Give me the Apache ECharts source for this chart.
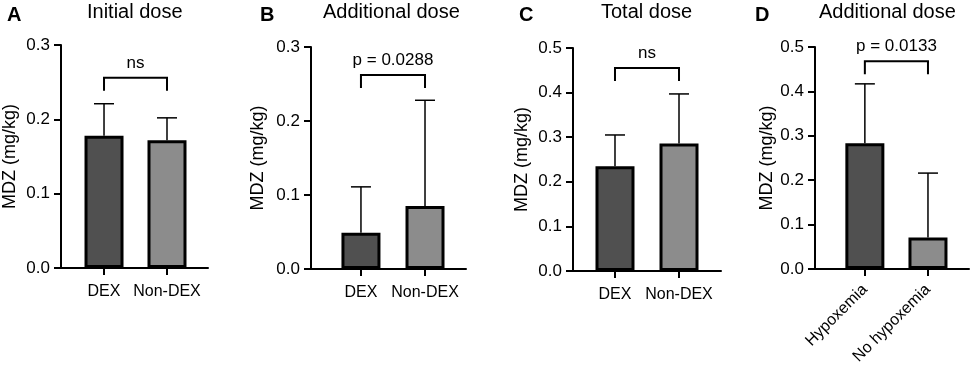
<!DOCTYPE html>
<html lang="en">
<head>
    <meta charset="UTF-8">
    <title>MDZ dose</title>
    <style>
        html, body { margin: 0; padding: 0; background: #fff; }
        #chart { width: 972px; height: 369px; }
    </style>
    <script src="https://cdn.jsdelivr.net/npm/echarts@6/dist/echarts.min.js"></script>
</head>
<body>
    <div id="chart"></div>
    <script>
        // values (mean, top of error bar)
        var catsDex = ['DEX', 'Non-DEX'];
        var catsHyp = ['Hypoxemia', 'No hypoxemia'];

        var meanA = [0.178, 0.172];
        var errA = [0.221, 0.202];
        var meanB = [0.049, 0.085];
        var errB = [0.111, 0.228];
        var meanC = [0.235, 0.286];
        var errC = [0.305, 0.397];
        var meanD = [0.283, 0.071];
        var errD = [0.417, 0.216];

        // significance brackets: [from, to, level]
        var bracketA = [0, 1, 0.256];
        var bracketB = [0, 1, 0.262];
        var bracketC = [0, 1, 0.455];
        var bracketD = [0, 1, 0.468];
        var sigText = ['ns', 'p = 0.0288', 'ns', 'p = 0.0133'];

        var yMax = [0.3, 0.3, 0.5, 0.5];
        var titles = ['Initial dose', 'Additional dose', 'Total dose', 'Additional dose'];
        var letters = ['A', 'B', 'C', 'D'];

        var barColors = ['#505050', '#8c8c8c'];
        var font = 'Liberation Sans, Arial, sans-serif';

        var panels = [
            { cats: catsDex, mean: meanA, err: errA, bracket: bracketA,
              grid: { left: 61, top: 45, width: 147, height: 223 }, xMin: -0.683, xMax: 1.651, nameGap: 42,
              titleLeft: 87, letterLeft: 7, rotate: 0 },
            { cats: catsDex, mean: meanB, err: errB, bracket: bracketB,
              grid: { left: 311, top: 47, width: 155, height: 222 }, xMin: -0.78, xMax: 1.64, nameGap: 44,
              titleLeft: 323, letterLeft: 260, rotate: 0 },
            { cats: catsDex, mean: meanC, err: errC, bracket: bracketC,
              grid: { left: 573, top: 48, width: 148, height: 223 }, xMin: -0.656, xMax: 1.656, nameGap: 42,
              titleLeft: 601, letterLeft: 519, rotate: 0 },
            { cats: catsHyp, mean: meanD, err: errD, bracket: bracketD,
              grid: { left: 815, top: 47, width: 154, height: 222 }, xMin: -0.79, xMax: 1.65, nameGap: 35,
              titleLeft: 819, letterLeft: 755, rotate: 45 }
        ];

        var myChart = echarts.init(document.getElementById('chart'));

        var grids = [], xAxes = [], yAxes = [], series = [], title = [];

        panels.forEach(function (p, i) {
            grids.push(p.grid);

            title.push({
                text: letters[i], left: p.letterLeft, top: 5, padding: 0,
                textStyle: { fontFamily: font, fontSize: 20, fontWeight: 'bold', color: '#000' }
            });
            title.push({
                text: titles[i], left: p.titleLeft, top: 2, padding: 0,
                textStyle: { fontFamily: font, fontSize: 20, fontWeight: 'normal', color: '#000' }
            });

            xAxes.push({
                gridIndex: i,
                type: 'value',
                min: p.xMin,
                max: p.xMax,
                splitLine: { show: false },
                axisLine: { show: true, onZero: false, lineStyle: { color: '#000', width: 2 } },
                axisTick: {
                    show: true, customValues: [0, 1], length: 7, inside: false,
                    lineStyle: { color: '#000', width: 2 }
                },
                axisLabel: {
                    customValues: [0, 1],
                    margin: p.rotate ? 18 : 16,
                    rotate: p.rotate,
                    fontFamily: font,
                    fontSize: 16,
                    color: '#000',
                    formatter: function (v) { return p.cats[Math.round(v)]; }
                }
            });

            yAxes.push({
                gridIndex: i,
                type: 'value',
                min: 0,
                max: yMax[i],
                interval: 0.1,
                name: 'MDZ (mg/kg)',
                nameLocation: 'middle',
                nameGap: p.nameGap,
                nameTextStyle: { fontFamily: font, fontSize: 18, color: '#000' },
                splitLine: { show: false },
                axisLine: { show: true, onZero: false, lineStyle: { color: '#000', width: 2 } },
                axisTick: { show: true, length: 7, lineStyle: { color: '#000', width: 2 } },
                axisLabel: {
                    margin: 11,
                    fontFamily: font,
                    fontSize: 17,
                    color: '#000',
                    formatter: function (v) { return v.toFixed(1); }
                }
            });

            // bars
            series.push({
                type: 'bar',
                xAxisIndex: i,
                yAxisIndex: i,
                barWidth: 39,
                data: p.mean.map(function (v, k) {
                    return {
                        value: [k, v],
                        itemStyle: { color: barColors[k], borderColor: '#000', borderWidth: 3 }
                    };
                }),
                z: 2
            });

            // upper error bars
            series.push({
                type: 'custom',
                xAxisIndex: i,
                yAxisIndex: i,
                data: p.mean.map(function (v, k) { return [k, v, p.err[k]]; }),
                renderItem: function (params, api) {
                    var base = api.coord([api.value(0), api.value(1)]);
                    var top = api.coord([api.value(0), api.value(2)]);
                    var st = { stroke: '#000', lineWidth: 1.5 };
                    return {
                        type: 'group',
                        children: [
                            { type: 'line', shape: { x1: base[0], y1: base[1], x2: top[0], y2: top[1] }, style: st },
                            { type: 'line', shape: { x1: top[0] - 10, y1: top[1], x2: top[0] + 10, y2: top[1] }, style: st }
                        ]
                    };
                },
                z: 3
            });

            // significance bracket and label
            series.push({
                type: 'custom',
                xAxisIndex: i,
                yAxisIndex: i,
                data: [p.bracket],
                renderItem: function (params, api) {
                    var a = api.coord([api.value(0), api.value(2)]);
                    var b = api.coord([api.value(1), api.value(2)]);
                    var leg = 13;
                    return {
                        type: 'group',
                        children: [
                            {
                                type: 'polyline',
                                shape: { points: [[a[0], a[1] + leg], [a[0], a[1]], [b[0], b[1]], [b[0], b[1] + leg]] },
                                style: { stroke: '#000', lineWidth: 2, fill: null }
                            },
                            {
                                type: 'text',
                                x: (a[0] + b[0]) / 2,
                                y: a[1] - 6,
                                style: {
                                    text: sigText[i], fill: '#000', fontFamily: font, fontSize: 17,
                                    align: 'center', verticalAlign: 'bottom'
                                }
                            }
                        ]
                    };
                },
                z: 3
            });
        });

        var option = {
            backgroundColor: '#fff',
            animation: false,
            title: title,
            grid: grids,
            xAxis: xAxes,
            yAxis: yAxes,
            series: series
        };

        myChart.setOption(option);
    </script>
</body>
</html>
